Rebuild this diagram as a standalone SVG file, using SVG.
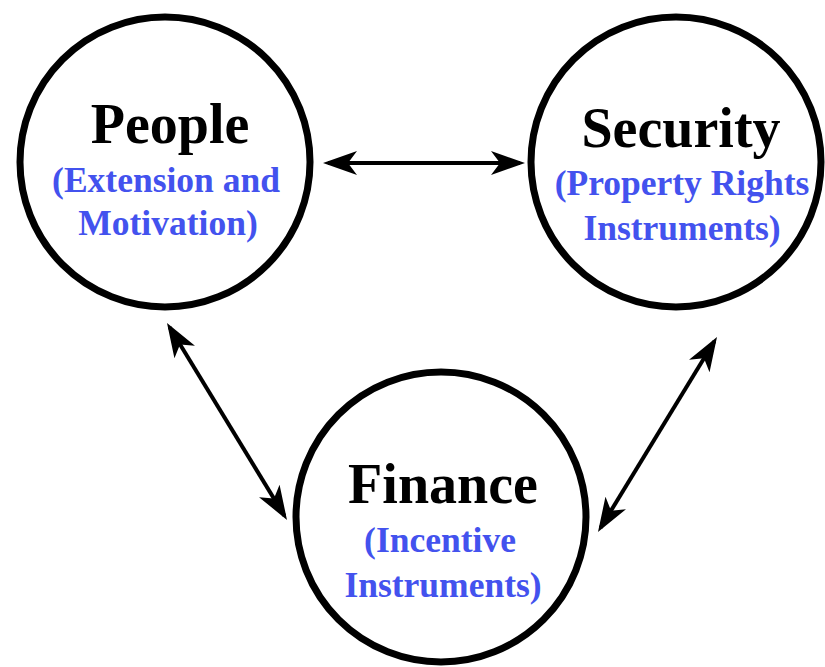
<svg xmlns="http://www.w3.org/2000/svg" width="825" height="667" viewBox="0 0 825 667">
<style>
.node circle{fill:#fff;stroke:#000;stroke-width:7}
.title{font-family:"Liberation Serif","Times New Roman",serif;font-weight:bold;font-size:56px;fill:#000;text-anchor:middle}
.sub{font-family:"Liberation Serif","Times New Roman",serif;font-weight:bold;font-size:35.5px;fill:#4352EE;text-anchor:middle}
.conn line{stroke:#000;stroke-width:4;marker-start:url(#ah);marker-end:url(#ah)}
</style>
<defs>
<marker id="ah" viewBox="0 0 34 24" refX="29" refY="12" markerWidth="34" markerHeight="24" markerUnits="userSpaceOnUse" orient="auto-start-reverse">
<path d="M0,0 L34,12 L0,24 L9,12 Z" fill="#000"/>
</marker>
</defs>
<rect width="825" height="667" fill="#fff"/>
<g id="people" class="node">
<circle cx="165" cy="162" r="145"/>
<text class="title" x="170" y="143">People</text>
<text class="sub" x="166" y="192">(Extension and</text>
<text class="sub" x="168" y="235">Motivation)</text>
</g>
<g id="security" class="node">
<circle cx="676" cy="162" r="145"/>
<text class="title" x="681" y="147">Security</text>
<text class="sub" x="682" y="195">(Property Rights</text>
<text class="sub" x="682" y="240">Instruments)</text>
</g>
<g id="finance" class="node">
<circle cx="441" cy="517" r="145"/>
<text class="title" x="443" y="503">Finance</text>
<text class="sub" x="440" y="552">(Incentive</text>
<text class="sub" x="443" y="597">Instruments)</text>
</g>
<g id="connectors" class="conn">
<line x1="328" y1="163" x2="520" y2="163"/>
<line x1="169.6" y1="327.3" x2="284.4" y2="515.7"/>
<line x1="714.4" y1="341.3" x2="600.6" y2="527.7"/>
</g>
</svg>
